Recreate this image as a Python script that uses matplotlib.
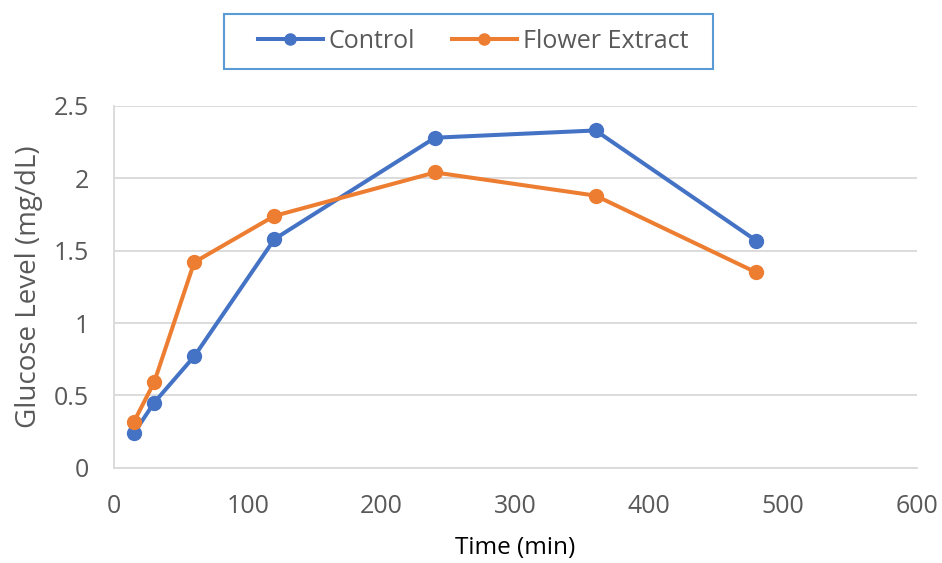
import matplotlib
matplotlib.use("Agg")
import matplotlib.pyplot as plt
from matplotlib.patches import Rectangle

# Glucose readings over time
time_min = [15, 30, 60, 120, 240, 360, 480]
control = [0.24, 0.45, 0.77, 1.58, 2.28, 2.33, 1.57]
flower_extract = [0.32, 0.59, 1.42, 1.74, 2.04, 1.88, 1.35]

x_ticks = [0, 100, 200, 300, 400, 500, 600]
y_ticks = [0, 0.5, 1, 1.5, 2, 2.5]
y_tick_labels = ["0", "0.5", "1", "1.5", "2", "2.5"]

BLUE = "#4472C4"
ORANGE = "#ED7D31"
TEXT = "#595959"
GRID = "#D9D9D9"

plt.rcParams["font.family"] = ["Open Sans", "DejaVu Sans"]

fig = plt.figure(figsize=(9.42, 5.63), dpi=100)
ax = fig.add_axes([0.121, 0.169, 0.852, 0.643])

ax.plot(time_min, control, color=BLUE, lw=2.9, marker="o", ms=10,
        label="Control", solid_joinstyle="round")
ax.plot(time_min, flower_extract, color=ORANGE, lw=2.9, marker="o", ms=10,
        label="Flower Extract", solid_joinstyle="round")

ax.set_xlim(0, 600)
ax.set_ylim(0, 2.5)
ax.set_xticks(x_ticks)
ax.set_yticks(y_ticks)
ax.set_yticklabels(y_tick_labels)

ax.grid(axis="y", color=GRID, lw=1.3)
ax.set_axisbelow(True)
for side in ("top", "right"):
    ax.spines[side].set_visible(False)
for side in ("left", "bottom"):
    ax.spines[side].set_color(GRID)
    ax.spines[side].set_linewidth(1.3)

ax.tick_params(axis="both", length=0, labelcolor=TEXT, labelsize=18)
ax.tick_params(axis="x", pad=19)
ax.tick_params(axis="y", pad=18)

ax.set_xlabel("Time (min)", fontsize=17.5, color="#000000", labelpad=12)
ax.set_ylabel("Glucose Level (mg/dL)", fontsize=20, color=TEXT, labelpad=8)

# legend entries without a frame; the wider box is drawn separately
leg = fig.legend(loc="center", bbox_to_anchor=(0.502, 0.926), ncol=2,
                 frameon=False, fontsize=18,
                 handlelength=2.6, handletextpad=0.25, columnspacing=1.45,
                 borderpad=0.5, borderaxespad=0, markerscale=0.8)
for t in leg.get_texts():
    t.set_color(TEXT)

fig.patches.append(Rectangle((0.238, 0.8775), 0.519, 0.0977,
                             transform=fig.transFigure, fill=False,
                             edgecolor="#5B9BD5", linewidth=1.5))

fig.savefig("out.png", dpi=100)
